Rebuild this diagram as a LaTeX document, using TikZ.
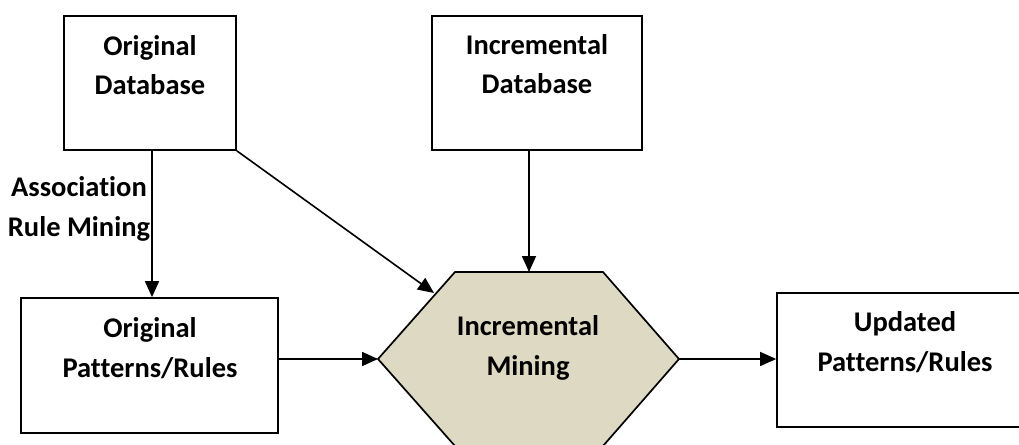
\documentclass[tikz,border=0pt]{standalone}
\usepackage{fontspec}
\setmainfont{Carlito}[Ligatures=CommonOff]
\usetikzlibrary{arrows.meta}
\definecolor{hexfill}{RGB}{221,217,195}
\begin{document}
\begin{tikzpicture}[x=1pt,y=-1pt,
  box/.style={draw=black,line width=1.7pt,fill=white,rectangle,inner sep=0pt},
  txt/.style={align=center,inner sep=0pt,font=\fontsize{28.5}{39.5}\selectfont\bfseries},
  conn/.style={line width=1.6pt,-{Triangle[length=16pt,width=14pt]}}]
\useasboundingbox (0,0) rectangle (1019,444);
% boxes
\node[box,minimum width=172pt,minimum height=134pt] (odb) at (150,83) {};
\node[box,minimum width=210pt,minimum height=134pt] (idb) at (537,83) {};
\node[box,minimum width=257pt,minimum height=135pt] (op) at (149.5,365.5) {};
\node[box,minimum width=257pt,minimum height=134pt] (up) at (905.5,360) {};
% hexagon
\coordinate (hexW) at (378,359);
\coordinate (hexE) at (679,359);
\coordinate (hexN) at (529,272);
\coordinate (hexNW) at (434,293);
\draw[line width=1.7pt,fill=hexfill,line join=miter]
  (hexW) -- (455,272) -- (603,272) -- (hexE) -- (603,446) -- (455,446) -- cycle;
% texts
\node[txt] (odbT) at (150,65) {Original\\Database};
\node[txt] (idbT) at (537,64) {Incremental\\Database};
\node[txt] (opT) at (150,348) {Original\\Patterns/Rules};
\node[txt] (imT) at (528,348) {Incremental\\Mining};
\node[txt] (upT) at (905,342) {Updated\\Patterns/Rules};
\node[txt] (assoc) at (79,209) {Association\\Rule Mining};
% connectors
\draw[conn] (odb.south -| 152,0) -- (op.north -| 152,0);
\draw[conn] (odb.south east) -- (hexNW);
\draw[conn] (idb.south -| hexN) -- (hexN);
\draw[conn] (op.east |- hexW) -- (hexW);
\draw[conn] (hexE) -- (up.west |- hexE);
\end{tikzpicture}
\end{document}
